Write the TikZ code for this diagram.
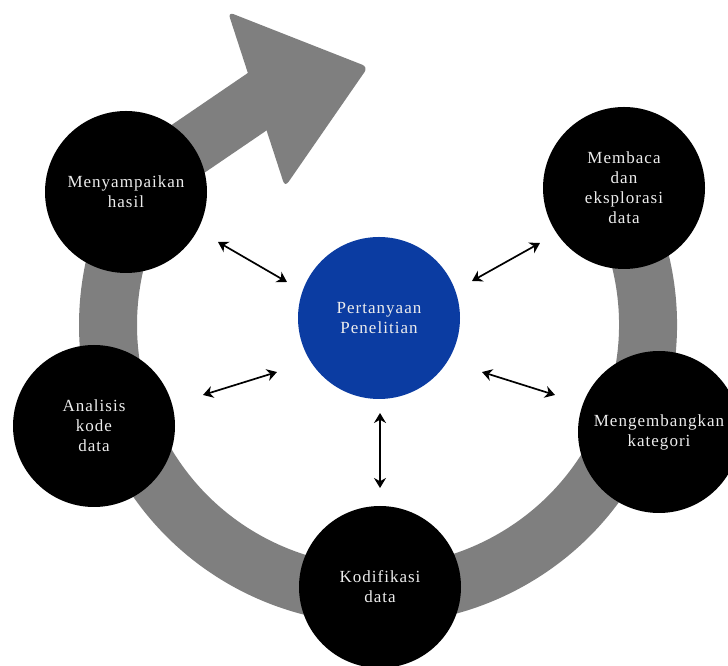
\documentclass[tikz,border=0pt]{standalone}
\usepackage{fontspec}
\setmainfont{Liberation Serif}[LetterSpace=6]
\usetikzlibrary{arrows.meta}
\definecolor{band}{HTML}{7F7F7F}
\definecolor{question}{HTML}{0B3CA2}
\definecolor{stagetext}{HTML}{EDEDED}
\tikzset{
  stage/.style={circle, fill=black, minimum size=162pt, inner sep=0pt,
                align=center, text=stagetext, font=\fontsize{17}{20}\selectfont},
  core/.style={stage, fill=question},
  link/.style={{Stealth[length=10pt,width=12pt]}-{Stealth[length=10pt,width=12pt]},
               line width=1.7pt, draw=black},
  cycleband/.style={draw=band, line width=58pt, line join=round}
}
\begin{document}
\begin{tikzpicture}[x=1pt,y=1pt]
    \useasboundingbox (0,0) rectangle (728,666);
    \draw[cycleband] (378,341) ++(29:270) arc[start angle=29, end angle=-215, radius=270]
      -- (270,573);
    \fill[band, rounded corners=6pt] (228,654) -- (368,599) -- (285,479) -- cycle;
    \node[core] (question) at (379,348) {Pertanyaan\\Penelitian};
    \node[stage] (membaca) at (624,478) {Membaca\\dan\\eksplorasi\\data};
    \node[stage] (kategori) at (659,234) {Mengembangkan\\kategori};
    \node[stage] (kodifikasi) at (380,79) {Kodifikasi\\data};
    \node[stage] (analisis) at (94,240) {Analisis\\kode\\data};
    \node[stage] (hasil) at (126,474) {Menyampaikan\\hasil};
    \coordinate (hasil-end) at (218,424);
    \coordinate (hasil-tip) at (287,384);
    \coordinate (membaca-end) at (540,423);
    \coordinate (membaca-tip) at (472,385);
    \coordinate (analisis-end) at (203,271);
    \coordinate (analisis-tip) at (277,294);
    \coordinate (kategori-end) at (555,271);
    \coordinate (kategori-tip) at (482,294);
    \coordinate (kodifikasi-end) at (380,178);
    \coordinate (kodifikasi-tip) at (380,253);
    \foreach \s in {hasil,membaca,analisis,kategori,kodifikasi} {
      \draw[link] (\s-end) -- (\s-tip);
    }
  \end{tikzpicture}
\end{document}
